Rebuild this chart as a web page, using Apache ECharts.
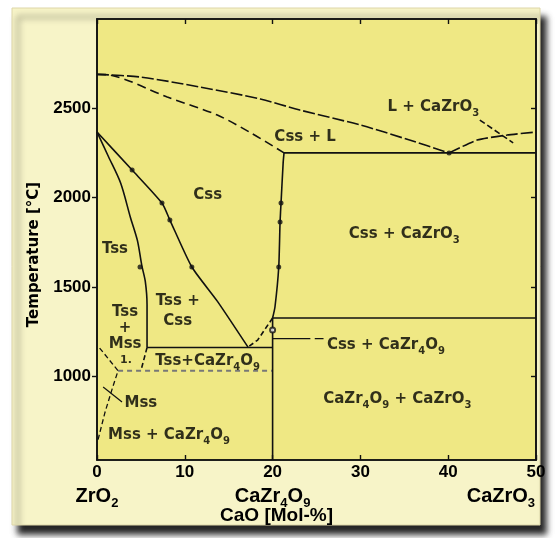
<!DOCTYPE html>
<html><head><meta charset="utf-8">
<script src="https://cdn.jsdelivr.net/npm/echarts@6/dist/echarts.min.js"></script>
<style>html,body{margin:0;padding:0;background:#fff}#c{width:556px;height:538px}</style>
</head><body><div id="c"></div>
<script>
// ---------- data ----------
const xTicks = [0, 10, 20, 30, 40, 50];
const yTicks = [1000, 1500, 2000, 2500];
const compoundTicks = [0, 20, 46.0];
const compoundNames = ['ZrO{s|2}', 'CaZr{s|4}O{s|9}', 'CaZrO{s|3}'];

const liquidusLeft = [[0,2690],[4.9,2675],[11.7,2619],[18.6,2552],[23.1,2490],[30,2406],[35.6,2322],[40.1,2250]];
const liquidusRight = [[40.1,2250],[43.3,2322],[46.7,2350],[50,2367]];
const liquidusCross = [[43.6,2434],[47.4,2306]];
const solidusDashed = [[0,2690],[1.5,2686],[8,2563],[13.7,2462],[17.6,2360],[21.3,2250]];
const eutecticLine = [[21.3,2250],[50,2250]];
const cssRight = [[21.3,2250],[21.2,2193],[20.96,1969],[20.85,1863],[20.7,1611],[20.27,1387],[20,1325]];
const cssRightLow = [[20,1325],[18.3,1202],[17.2,1162]];
const cssLeft = [[0,2367],[4,2154],[7.4,1969],[8.3,1874],[10.8,1611],[13.7,1420],[17.2,1162]];
const tssRight = [[0,2367],[1.3,2230],[2.7,2080],[3.8,1890],[4.6,1760],[5.1,1620],[5.5,1530],[5.7,1400],[5.7,1160]];
const tssRightLow = [[5.7,1160],[5.0,1030]];
const eutectoidLine = [[5.7,1160],[20,1160]];
const monoclinicLine = [[2.4,1030],[20,1030]];
const mssBoundary = [[0.3,1157],[2.4,1030],[1.8,940],[0.9,795],[0.1,640]];
const mssLeader = [[0.7,939],[2.85,855]];
const cz4Line = [[20,1325],[50,1325]];
const cz4Vertical = [[20,1325],[20,530]];
const cssLeader = [[20,1210],[24.3,1210]];
const cssLeaderDash = [[24.8,1210],[25.8,1210]];
const measuredPoints = [[4.9,1611],[4,2154],[7.4,1969],[8.3,1874],[10.8,1611],[20.96,1969],[20.85,1863],[20.7,1611],[40.1,2250]];
const openPoints = [[20,1258]];

const phaseLabels = [
  ['L + CaZrO{s|3}', 38.3, 2506],
  ['Css + L', 23.7, 2338],
  ['Css', 12.6, 2013],
  ['Css + CaZrO{s|3}', 35.0, 1795],
  ['Tss', 2.05, 1711],
  ['Tss +\nCss', 9.2, 1364],
  ['Tss\n+\nMss', 3.2, 1269],
  ['1.', 3.3, 1090],
  ['Tss+CaZr{s|4}O{s|9}', 12.6, 1084],
  ['Mss', 5.0, 849],
  ['Mss + CaZr{s|4}O{s|9}', 8.2, 670],
  ['Css + CaZr{s|4}O{s|9}', 32.9, 1174],
  ['CaZr{s|4}O{s|9} + CaZrO{s|3}', 34.2, 872]
];

// ---------- chart ----------
const chart = echarts.init(document.getElementById('c'), null, {renderer: 'canvas'});
const BF = 'DejaVu Sans';
const LF = 'Liberation Sans';
const INK = '#000';

function lineSeries(data, type, opts) {
  opts = opts || {};
  return {
    type: 'line', data: data, showSymbol: false, symbol: 'none',
    smooth: opts.smooth || false, silent: true, animation: false,
    lineStyle: {color: opts.color || '#111', width: opts.width || 1.6, type: type || 'solid'},
    z: 3
  };
}

const series = [
  lineSeries(liquidusLeft, [12, 3], {smooth: 0.3}),
  lineSeries(liquidusRight, [12, 3], {smooth: 0.2}),
  lineSeries(liquidusCross, [6, 3]),
  lineSeries(solidusDashed, [9, 5], {smooth: 0.3}),
  lineSeries(eutecticLine, 'solid'),
  lineSeries(cssRight, 'solid', {smooth: 0.2}),
  lineSeries(cssRightLow, [5, 3]),
  lineSeries(cssLeft, 'solid', {smooth: 0.2}),
  lineSeries(tssRight, 'solid', {smooth: 0.3}),
  lineSeries(tssRightLow, [5, 3]),
  lineSeries(eutectoidLine, 'solid'),
  lineSeries(monoclinicLine, [5, 4], {color: '#777', width: 1.8}),
  lineSeries(mssBoundary, [5, 3], {width: 1.3}),
  lineSeries(mssLeader, 'solid', {width: 1.2}),
  lineSeries(cz4Line, 'solid'),
  lineSeries(cz4Vertical, 'solid'),
  lineSeries(cssLeader, 'solid', {width: 1.2}),
  lineSeries(cssLeaderDash, 'solid', {width: 1.2}),
  {type: 'scatter', data: measuredPoints, symbol: 'circle', symbolSize: 5,
   itemStyle: {color: '#111'}, silent: true, animation: false, z: 4},
  {type: 'scatter', data: openPoints, symbol: 'emptyCircle', symbolSize: 5,
   itemStyle: {color: '#111', borderWidth: 1}, silent: true, animation: false, z: 4},
  {type: 'scatter', symbolSize: 1, itemStyle: {color: 'rgba(0,0,0,0)'}, silent: true, animation: false, z: 5,
   data: phaseLabels.map(function (p) {
     const item = {value: [p[1], p[2]], label: {formatter: p[0]}};
     if (p[0] === '1.') item.label.fontSize = 11;
     if (p[0].indexOf('Tss\n+') === 0) item.label.lineHeight = 16;
     if (p[0].indexOf('Tss +\n') === 0) item.label.lineHeight = 20;
     return item;
   }),
   label: {show: true, position: 'inside', color: INK, textBorderWidth: 0, fontFamily: BF, fontWeight: 'bold', fontSize: 15,
     lineHeight: 18, align: 'center', verticalAlign: 'middle',
     rich: {s: {fontFamily: BF, fontWeight: 'bold', fontSize: 10, color: INK, verticalAlign: 'bottom', lineHeight: 22}}}
  }
];

const option = {
  backgroundColor: '#ffffff',
  animation: false,
  graphic: [
    {type: 'rect', z: -20, shape: {x: 12, y: 8, width: 528, height: 517},
     style: {fill: '#f7f4c8', stroke: '#ddd6a8', lineWidth: 1,
       shadowBlur: 6, shadowColor: 'rgba(0,0,0,0.85)', shadowOffsetX: 6, shadowOffsetY: 9}}
  ],
  grid: {left: 97, top: 19, right: 20, bottom: 78, show: true, backgroundColor: '#efe884',
    borderColor: '#111', borderWidth: 1.6, containLabel: false, outerBoundsMode: 'none'},
  xAxis: [
    {type: 'value', min: 0, max: 50, interval: 10, position: 'bottom',
     axisLine: {show: true, onZero: false, lineStyle: {color: '#111', width: 1.6}},
     axisTick: {show: true, inside: true, length: 5, lineStyle: {color: '#111', width: 1.4}},
     axisLabel: {show: true, margin: 4, color: INK, fontFamily: LF, fontWeight: 'bold', fontSize: 17},
     splitLine: {show: false}},
    {type: 'value', min: 0, max: 50, interval: 10, position: 'top',
     axisLine: {show: true, onZero: false, lineStyle: {color: '#111', width: 1.6}},
     axisTick: {show: true, inside: true, length: 5, lineStyle: {color: '#111', width: 1.4}},
     axisLabel: {show: false}, splitLine: {show: false}},
    {type: 'value', min: 0, max: 50, position: 'bottom', offset: 20,
     axisLine: {show: false}, axisTick: {show: false}, splitLine: {show: false},
     name: 'CaO [Mol-%]', nameLocation: 'middle', nameGap: 26, nameMoveOverlap: false,
     nameTextStyle: {color: INK, fontFamily: LF, fontWeight: 'bold', fontSize: 19, padding: [0, 80, 0, 0]},
     axisLabel: {show: true, customValues: compoundTicks, margin: 2, color: INK,
       fontFamily: LF, fontWeight: 'bold', fontSize: 20, lineHeight: 20,
       formatter: function (v) { const i = compoundTicks.indexOf(v); return i >= 0 ? compoundNames[i] : ''; },
       rich: {s: {fontFamily: LF, fontWeight: 'bold', fontSize: 13, color: INK, verticalAlign: 'bottom', lineHeight: 28}}}}
  ],
  yAxis: [
    {type: 'value', min: 530, max: 3000, position: 'left',
     axisLine: {show: true, onZero: false, lineStyle: {color: '#111', width: 1.6}},
     axisTick: {show: true, inside: false, length: 5, customValues: yTicks, lineStyle: {color: '#111', width: 1.4}},
     axisLabel: {show: true, customValues: yTicks, margin: 6, color: INK, fontFamily: LF, fontWeight: 'bold', fontSize: 17,
       formatter: function (v) { return String(v); }},
     splitLine: {show: false},
     name: 'Temperature [°C]', nameLocation: 'middle', nameGap: 55, nameRotate: 90, nameMoveOverlap: false,
     nameTextStyle: {color: INK, fontFamily: BF, fontWeight: 'bold', fontSize: 15, padding: [0, 30, 0, 0]}},
    {type: 'value', min: 530, max: 3000, position: 'right',
     axisLine: {show: true, onZero: false, lineStyle: {color: '#111', width: 1.6}},
     axisTick: {show: true, inside: true, length: 5, customValues: yTicks, lineStyle: {color: '#111', width: 1.4}},
     axisLabel: {show: false}, splitLine: {show: false}}
  ],
  series: series
};
chart.setOption(option);
</script>
</body></html>
